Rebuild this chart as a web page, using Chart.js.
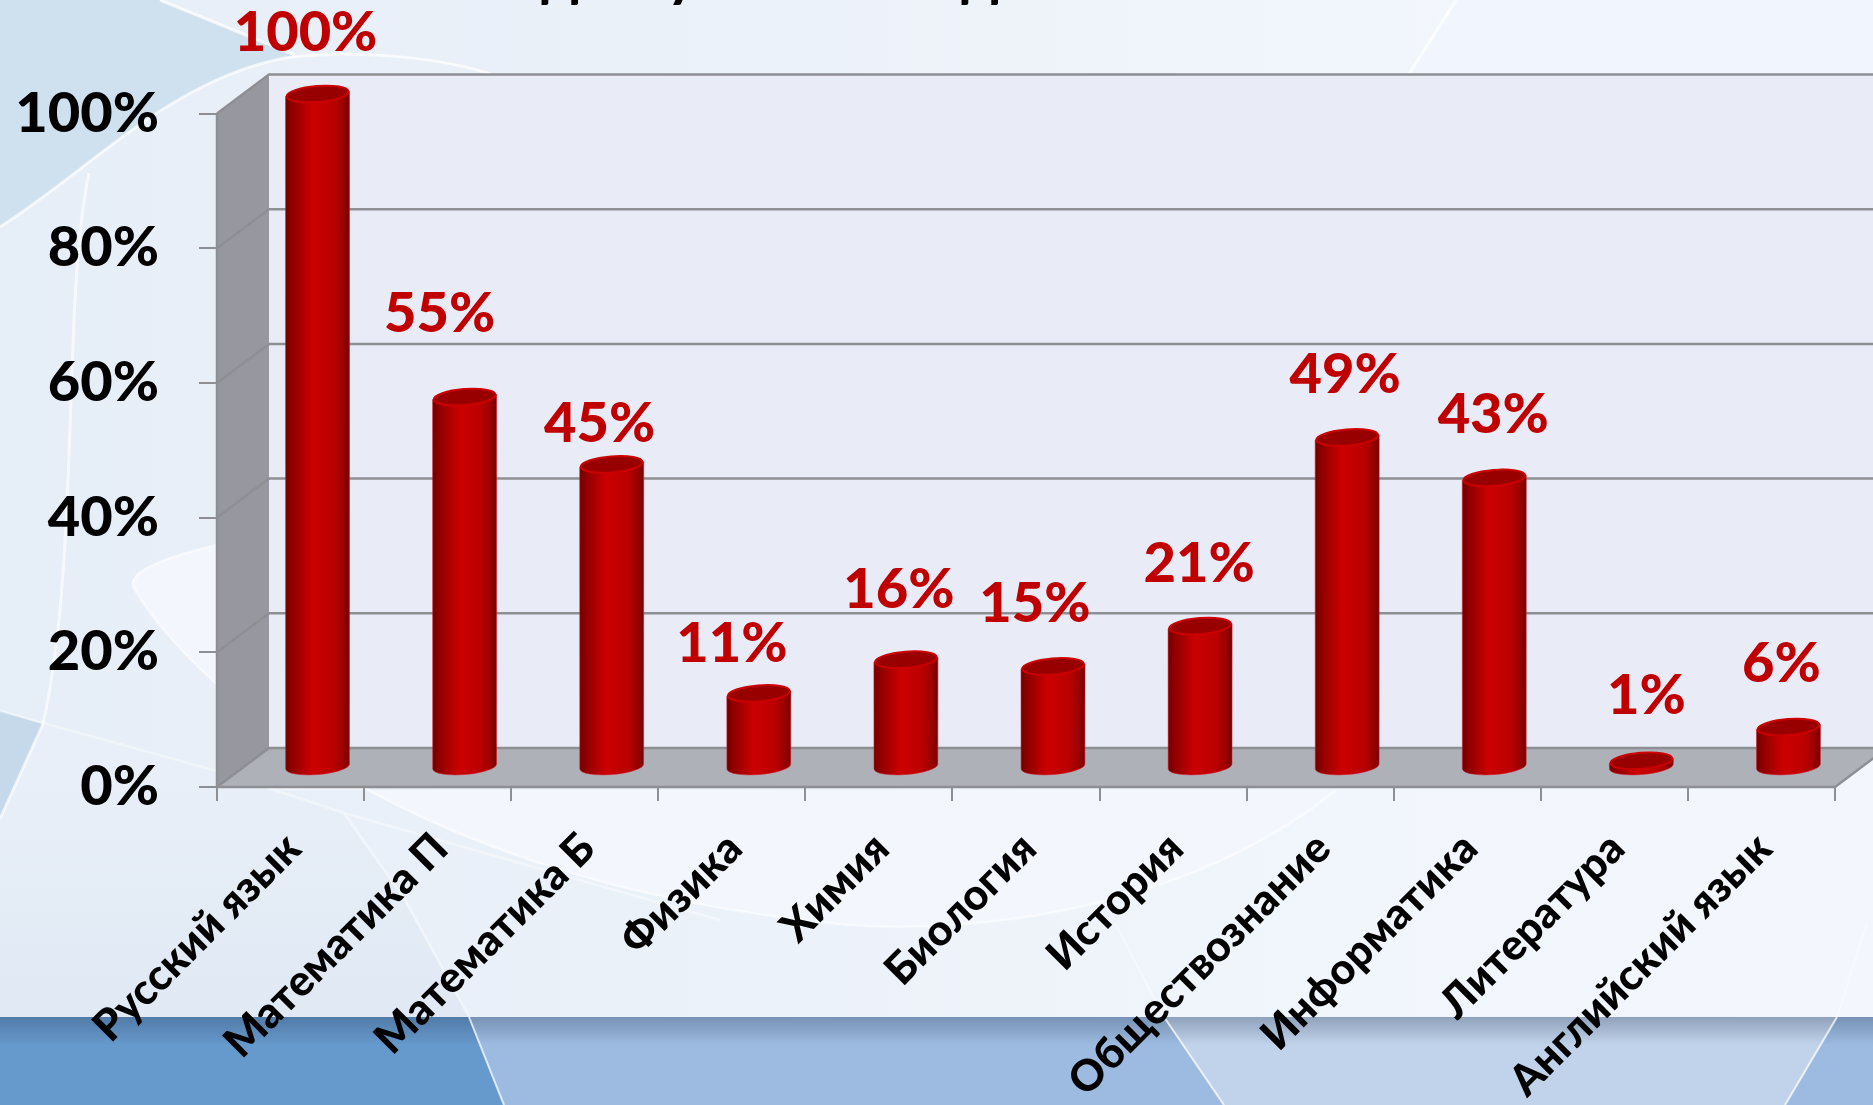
<!DOCTYPE html>
<html lang="ru">
<head>
<meta charset="utf-8">
<title>Диаграмма</title>
<style>
html,body{margin:0;padding:0;background:#e9f0f8;overflow:hidden}
canvas{display:block}
</style>
<script src="https://cdn.jsdelivr.net/npm/chart.js@4"></script>
</head>
<body>
<canvas id="c" width="1873" height="1105"></canvas>
<script>
const categories = ["Русский язык","Математика П","Математика Б","Физика","Химия","Биология","История","Обществознание","Информатика","Литература","Английский язык"];
const values = [100,55,45,11,16,15,21,49,43,1,6];
const yTicks = [0,20,40,60,80,100];
const clippedTitleGlyphs = ["д","у","д"];

const FONT = '"Lato","Noto Sans",sans-serif';
const DEPTH_X = 52, DEPTH_Y = 39;
const labelNudgeX = [-12,-25,-12,-27,-7,-18,-1,-2,-1,5,-7];
const labelLift = [61,83,40,49,70,63,62,63,63,65,63];
const titleGlyphX = [560,682,980];

function poly(ctx, pts, fill){
  ctx.beginPath();
  pts.forEach((p,i)=> i?ctx.lineTo(p[0],p[1]):ctx.moveTo(p[0],p[1]));
  ctx.closePath(); ctx.fillStyle = fill; ctx.fill();
}
function stroke(ctx, build, color, w){
  ctx.beginPath(); build(ctx); ctx.strokeStyle=color; ctx.lineWidth=w; ctx.stroke();
}

const slideBackground = {
  id:'slideBackground',
  beforeDraw(chart){
    const ctx = chart.ctx, W = chart.width, H = chart.height;
    ctx.save();
    let g = ctx.createLinearGradient(0,0,W,0);
    g.addColorStop(0,'#e6eef7'); g.addColorStop(.35,'#ebf1f9'); g.addColorStop(.7,'#f1f5fc'); g.addColorStop(1,'#f3f6fd');
    ctx.fillStyle = g; ctx.fillRect(0,0,W,1017);
    poly(ctx,[[1456,0],[W,0],[W,80],[1409,80]],'#f1f6fe');
    // blue corner at the top left
    ctx.beginPath(); ctx.moveTo(0,0); ctx.lineTo(160,0); ctx.lineTo(295,55);
    ctx.lineTo(285,58); ctx.bezierCurveTo(170,80,90,170,0,227); ctx.closePath();
    ctx.fillStyle='#cfe0ee'; ctx.fill();
    // soft darker area on the lower left
    g = ctx.createLinearGradient(0,780,0,1017);
    g.addColorStop(0,'#e8eff8'); g.addColorStop(1,'#e0e9f4');
    poly(ctx,[[0,819],[43,724],[217,771],[344,813],[405,900],[469,1017],[0,1017]],g);
    poly(ctx,[[0,711],[43,724],[0,819]],'#c6d9ea');
    // pale ellipse
    ctx.beginPath(); ctx.moveTo(269,535);
    ctx.bezierCurveTo(180,550,120,570,135,590);
    ctx.bezierCurveTo(170,650,360,880,850,925);
    ctx.bezierCurveTo(1000,935,1200,900,1336,790);
    ctx.lineTo(269,790); ctx.closePath();
    ctx.fillStyle='#f3f6fd'; ctx.fill();
    stroke(ctx,c=>{c.moveTo(269,535);c.bezierCurveTo(180,550,120,570,135,590);c.bezierCurveTo(170,650,360,880,850,925);c.bezierCurveTo(1000,935,1200,900,1336,790);},'rgba(255,255,255,.5)',2.5);
    // curved highlight lines
    stroke(ctx,c=>{c.moveTo(160,0);c.lineTo(295,55);},'rgba(255,255,255,.75)',3);
    stroke(ctx,c=>{c.moveTo(0,227);c.bezierCurveTo(90,170,170,80,285,58);c.bezierCurveTo(350,50,430,55,491,74);},'rgba(255,255,255,.7)',3);
    stroke(ctx,c=>{c.moveTo(89,173);c.bezierCurveTo(62,300,80,560,43,724);c.lineTo(0,819);},'rgba(255,255,255,.65)',3);
    stroke(ctx,c=>{c.moveTo(0,711);c.lineTo(217,771);c.lineTo(344,813);c.lineTo(720,920);},'rgba(255,255,255,.4)',2.5);
    stroke(ctx,c=>{c.moveTo(344,813);c.lineTo(405,900);c.lineTo(469,1017);},'rgba(255,255,255,.45)',2.5);
    stroke(ctx,c=>{c.moveTo(1456,0);c.lineTo(1409,74);},'rgba(255,255,255,.8)',3);
    stroke(ctx,c=>{c.moveTo(1115,923);c.lineTo(1164,1017);},'rgba(255,255,255,.35)',2);
    stroke(ctx,c=>{c.moveTo(1867,923);c.lineTo(1837,1017);},'rgba(255,255,255,.35)',2);
    // bottom band
    ctx.fillStyle='#9dbbe0'; ctx.fillRect(0,1017,W,H-1017);
    poly(ctx,[[0,1017],[469,1017],[504,H],[0,H]],'#6699cc');
    poly(ctx,[[1164,1017],[1837,1017],[1785,H],[1224,H]],'#c1d3ea');
    g = ctx.createLinearGradient(0,1017,0,1045);
    g.addColorStop(0,'rgba(40,60,90,.32)'); g.addColorStop(1,'rgba(40,60,90,0)');
    ctx.fillStyle=g; ctx.fillRect(0,1017,W,28);
    stroke(ctx,c=>{c.moveTo(469,1017);c.lineTo(504,H);},'rgba(255,255,255,.75)',2);
    stroke(ctx,c=>{c.moveTo(1164,1017);c.lineTo(1224,H);},'rgba(255,255,255,.75)',2);
    stroke(ctx,c=>{c.moveTo(1837,1017);c.lineTo(1785,H);},'rgba(255,255,255,.75)',2);
    // only the descenders of the cut-off heading are visible
    ctx.fillStyle='#000'; ctx.font='bold 60px '+FONT; ctx.textAlign='center'; ctx.textBaseline='alphabetic';
    clippedTitleGlyphs.forEach((t,i)=>ctx.fillText(t,titleGlyphX[i],-5));
    ctx.restore();
  }
};

const walls3d = {
  id:'walls3d',
  beforeDatasetsDraw(chart){
    const ctx = chart.ctx, y = chart.scales.y, a = chart.chartArea;
    const y0 = y.getPixelForValue(0), yMax = y.getPixelForValue(100);
    const L = a.left, R = a.right, dx = DEPTH_X, dy = DEPTH_Y;
    ctx.save();
    poly(ctx,[[L+dx,yMax-dy],[R+dx,yMax-dy],[R+dx,y0-dy],[L+dx,y0-dy]],'#e9ebf6');
    poly(ctx,[[L,yMax],[L+dx,yMax-dy],[L+dx,y0-dy],[L,y0]],'#97989f');
    poly(ctx,[[L,y0],[L+dx,y0-dy],[R+dx,y0-dy],[R,y0]],'#afb1b8');
    yTicks.forEach(v=>{
      const p = y.getPixelForValue(v);
      stroke(ctx,c=>{c.moveTo(L,p);c.lineTo(L+dx,p-dy);c.lineTo(R+dx,p-dy);},'#8e8f94',2.5);
    });
    stroke(ctx,c=>{c.moveTo(L,yMax);c.lineTo(L,y0);c.lineTo(R,y0);c.lineTo(R+dx,y0-dy);},'#8e8f94',2.5);
    ctx.restore();
  }
};

const cylinders = {
  id:'cylinders',
  beforeDatasetDraw(chart, args){
    const ctx = chart.ctx, meta = args.meta;
    const ry = 8, tilt = -0.08;
    meta.data.forEach(el=>{
      const w = el.width, rx = w/2;
      const cx = el.x + DEPTH_X/2 + 1;
      const top = el.y - DEPTH_Y/2, base = el.base - DEPTH_Y/2;
      const g = ctx.createLinearGradient(cx-rx,0,cx+rx,0);
      g.addColorStop(0,'#6f0000'); g.addColorStop(.1,'#8f0000'); g.addColorStop(.42,'#cc0000');
      g.addColorStop(.75,'#bb0000'); g.addColorStop(.9,'#9c0000'); g.addColorStop(1,'#740000');
      ctx.save();
      ctx.beginPath();
      ctx.ellipse(cx,base,rx,ry,tilt,Math.PI,0,true);
      ctx.lineTo(cx+rx,top-2.5);
      ctx.lineTo(cx-rx,top+2.5);
      ctx.closePath();
      ctx.fillStyle = g; ctx.fill();
      ctx.strokeStyle='rgba(210,30,40,.55)'; ctx.lineWidth=1; ctx.stroke();
      ctx.beginPath(); ctx.ellipse(cx,top,rx-1,ry,tilt,0,Math.PI*2);
      ctx.fillStyle='#980000'; ctx.fill();
      ctx.strokeStyle='#cc0000'; ctx.lineWidth=2; ctx.stroke();
      ctx.restore();
    });
    return false;
  },
  afterDatasetsDraw(chart){
    const ctx = chart.ctx, meta = chart.getDatasetMeta(0);
    ctx.save();
    ctx.fillStyle='#c00000'; ctx.font='900 56px '+FONT; ctx.textAlign='center'; ctx.textBaseline='middle';
    meta.data.forEach((el,i)=>{
      ctx.fillText(values[i]+'%', el.x + DEPTH_X/2 + 1 + labelNudgeX[i], el.y - DEPTH_Y/2 - labelLift[i]);
    });
    ctx.restore();
  }
};

new Chart(document.getElementById('c'),{
  type:'bar',
  data:{labels:categories,datasets:[{data:values,backgroundColor:'#c00000',barThickness:64}]},
  plugins:[slideBackground,walls3d,cylinders],
  options:{
    responsive:false,animation:false,devicePixelRatio:1,
    layout:{autoPadding:false,padding:{top:113.5,right:38,bottom:0,left:0}},
    plugins:{legend:{display:false},tooltip:{enabled:false},title:{display:false}},
    scales:{
      x:{
        afterFit(s){s.height=318;},
        grid:{drawOnChartArea:false,color:'#8e8f94',lineWidth:2,tickLength:14},
        border:{display:false},
        ticks:{autoSkip:false,minRotation:45,maxRotation:45,padding:22,labelOffset:3,color:'#000',font:{family:FONT,weight:'900',size:43}}
      },
      y:{
        min:0,max:100,
        afterFit(s){s.width=217;},
        afterBuildTicks(s){s.ticks=yTicks.map(v=>({value:v}));},
        grid:{drawOnChartArea:false,color:'#8e8f94',lineWidth:2,tickLength:18},
        border:{display:false},
        ticks:{padding:40,color:'#000',font:{family:FONT,weight:'900',size:56},callback:v=>v+'%'}
      }
    }
  }
});
</script>
</body>
</html>
